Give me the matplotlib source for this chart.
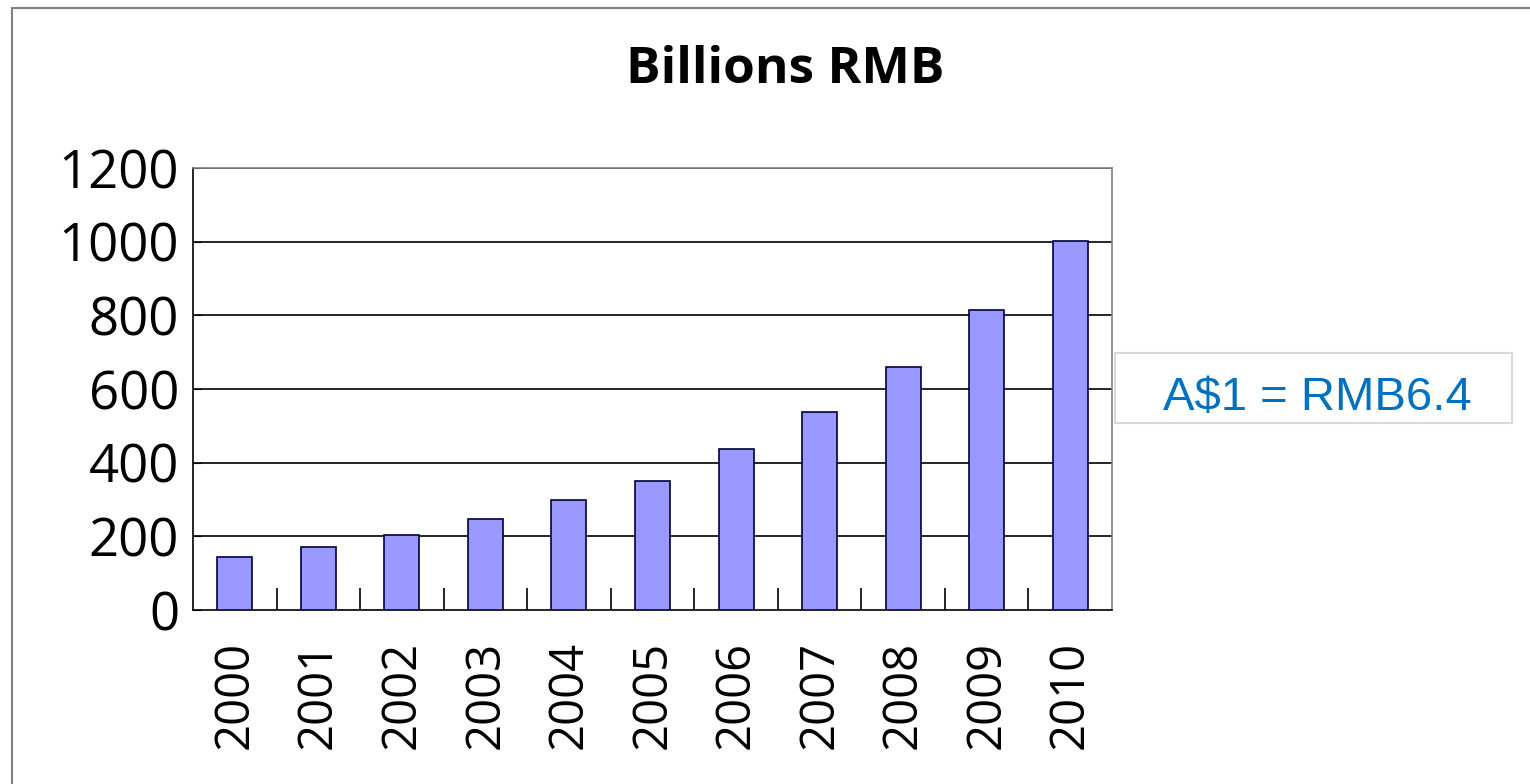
import matplotlib.pyplot as plt
import numpy as np
from matplotlib.patches import Rectangle

years = ["2000", "2001", "2002", "2003", "2004", "2005",
         "2006", "2007", "2008", "2009", "2010"]
values = [144, 171, 204, 247, 298, 350, 437, 538, 659, 814, 1001]
yticks = [0, 200, 400, 600, 800, 1000, 1200]

fig = plt.figure(figsize=(15.3, 7.84), dpi=100)
W, H = 1530, 784

# outer chart border
fig.patches.append(Rectangle((12 / W, -0.1), 1.2, (784 - 8) / H + 0.1,
                             transform=fig.transFigure, fill=False,
                             edgecolor="#808080", lw=1.5))

ax = fig.add_axes([193 / W, 1 - 610 / H, (1112 - 193) / W, (610 - 168) / H])
x = np.arange(len(years))
ax.bar(x, values, width=0.42, color="#9999FF", edgecolor="#000040", lw=1.2, zorder=3)
ax.set_xlim(-0.5, len(years) - 0.5)
ax.set_ylim(0, 1200)
ax.set_yticks(yticks)
ax.set_yticklabels([str(v) for v in yticks], fontsize=38, family="Open Sans")
for v in yticks[1:]:
    ax.axhline(v, color="black", lw=1.2, zorder=1)

ax.set_xticks(x)
ax.set_xticklabels(years, rotation=90, fontsize=34, family="Open Sans")
ax.tick_params(axis="x", length=0, pad=22)
ax.tick_params(axis="y", direction="in", length=6, pad=10)
ax.set_xticks(np.arange(0.5, len(years) - 1, 1), minor=True)
ax.tick_params(axis="x", which="minor", direction="in", length=16, width=1.2)

for s in ["left", "bottom"]:
    ax.spines[s].set_color("black")
    ax.spines[s].set_linewidth(1.2)
for s in ["top", "right"]:
    ax.spines[s].set_color("#808080")
    ax.spines[s].set_linewidth(1.2)

fig.text(785 / W, 1 - 70 / H, "Billions RMB", ha="center", va="center",
         fontsize=37, fontweight="bold", family="Open Sans")

# exchange rate note
fig.patches.append(Rectangle((1115 / W, 1 - 423 / H), (1512 - 1115) / W, 70 / H,
                             transform=fig.transFigure, fill=False,
                             edgecolor="#D9D9D9", lw=1.5))
fig.text(1317 / W, 1 - 398 / H, "A$1 = RMB6.4", ha="center", va="center",
         fontsize=34, color="#0070C0", family="Liberation Sans")

fig.savefig("out.png", dpi=100)
